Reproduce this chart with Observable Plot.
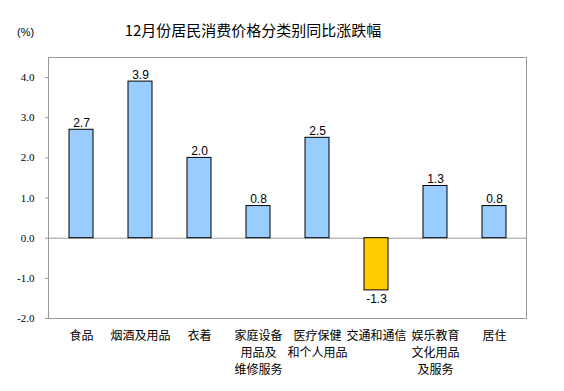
<!DOCTYPE html>
<html><head><meta charset="utf-8">
<script src="https://cdn.jsdelivr.net/npm/d3@7"></script>
<script src="https://cdn.jsdelivr.net/npm/@observablehq/plot@0.6"></script>
<style>
body{margin:0;background:#fff;}
#wrap{position:relative;width:564px;height:391px;}
#head{position:relative;width:564px;height:45px;}
#title{position:absolute;left:0;width:506px;top:19px;text-align:center;font:15px "Noto Sans CJK SC",sans-serif;color:#000;}
#unit{position:absolute;left:17px;top:26px;font:11px "Liberation Sans",Arial,sans-serif;color:#000;}
</style></head>
<body><div id="wrap"><div id="head"><div id="title">12月份居民消费价格分类别同比涨跌幅</div><div id="unit">(%)</div></div><div id="chart"></div></div>
<script>
const categories = ["食品","烟酒及用品","衣着","家庭设备用品及维修服务","医疗保健和个人用品","交通和通信","娱乐教育文化用品及服务","居住"];
const tickLabels = ["食品","烟酒及用品","衣着","家庭设备\n用品及\n维修服务","医疗保健\n和个人用品","交通和通信","娱乐教育\n文化用品\n及服务","居住"];
const values = [2.7,3.9,2.0,0.8,2.5,-1.3,1.3,0.8];
const yTicks = [-2,-1,0,1,2,3,4];

const data = categories.map((c,i)=>({cat:c, value:values[i]}));
const labelOf = new Map(categories.map((c,i)=>[c,tickLabels[i]]));

const chart = Plot.plot({
  width:564, height:346,
  marginTop:12, marginLeft:48, marginRight:38, marginBottom:73,
  style:{background:"#fff", color:"#000"},
  x:{domain:categories, paddingInner:0.6, paddingOuter:0.3, label:null},
  y:{domain:[-2,4.5], label:null},
  marks:[
    Plot.frame({stroke:"#999"}),
    Plot.ruleY([0],{stroke:"#999"}),
    Plot.axisY({ticks:yTicks, tickFormat:d=>d.toFixed(1), tickSize:3, tickPadding:11, stroke:"#999", fontSize:11, fontFamily:"Liberation Serif, serif", label:null}),
    Plot.axisX({tickSize:0, tickPadding:10, tickFormat:d=>labelOf.get(d), fontSize:12, fontFamily:"Noto Sans CJK SC, sans-serif", lineHeight:1.4, lineAnchor:"top", label:null}),
    Plot.barY(data,{x:"cat", y:"value", fill:d=>d.value<0?"#FFCC00":"#99CCFF", stroke:"#000", strokeWidth:1}),
    Plot.text(data.filter(d=>d.value>=0),{x:"cat", y:"value", text:d=>d.value.toFixed(1), lineAnchor:"bottom", dy:-3, fontSize:12, fontFamily:"Liberation Sans, Arial, sans-serif", fill:"#000"}),
    Plot.text(data.filter(d=>d.value<0),{x:"cat", y:"value", text:d=>d.value.toFixed(1), lineAnchor:"top", dy:4, fontSize:12, fontFamily:"Liberation Sans, Arial, sans-serif", fill:"#000"})
  ]
});
document.getElementById("chart").append(chart);
</script></body></html>
